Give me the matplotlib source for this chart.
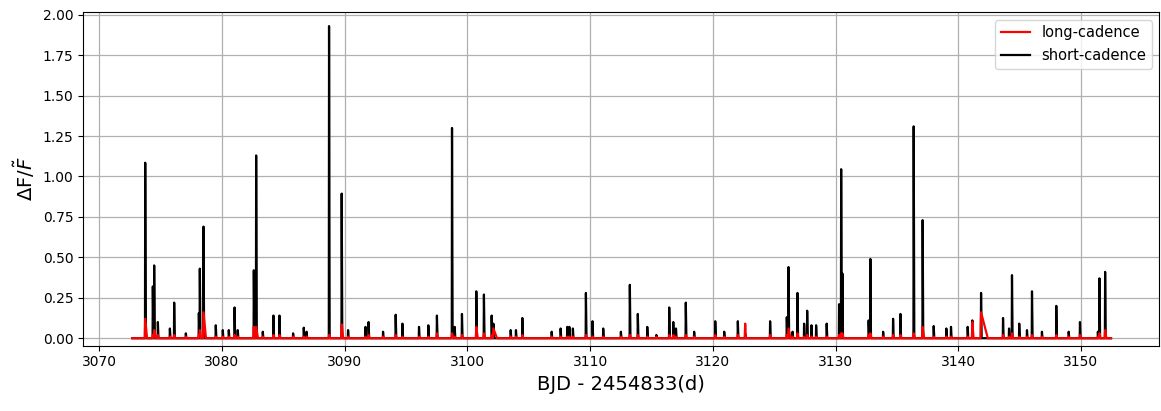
import numpy as np
import matplotlib
matplotlib.use("Agg")
import matplotlib.pyplot as plt

# ---- data ----
t_start, t_end = 3072.70, 3152.45

flare_times = [3073.75, 3074.37, 3074.48, 3074.78, 3075.76, 3076.11, 3077.06, 3078.12, 3078.20, 3078.50,
               3079.50, 3080.07, 3080.56, 3081.03, 3081.29, 3082.60, 3082.79, 3083.33, 3084.20, 3084.69,
               3085.80, 3086.67, 3086.90, 3088.73, 3089.76, 3090.28, 3091.70, 3091.95, 3093.13, 3094.16,
               3094.71, 3096.06, 3096.82, 3097.52, 3098.75, 3098.97, 3099.56, 3100.73, 3101.35, 3101.98,
               3102.12, 3103.53, 3103.96, 3104.48, 3106.87, 3107.60, 3108.14, 3108.31, 3108.60, 3109.66,
               3110.20, 3111.07, 3112.51, 3113.24, 3113.89, 3114.66, 3115.40, 3116.45, 3116.78, 3117.00,
               3117.80, 3118.48, 3120.20, 3120.93, 3122.04, 3122.64, 3124.67, 3126.03, 3126.17, 3126.50,
               3126.90, 3127.44, 3127.69, 3128.04, 3128.42, 3129.28, 3130.29, 3130.46, 3130.56, 3132.70,
               3132.84, 3133.88, 3134.69, 3135.29, 3136.37, 3137.10, 3138.00, 3139.03, 3139.41, 3140.77,
               3141.15, 3141.86, 3143.65, 3144.14, 3144.38, 3144.97, 3145.60, 3146.01, 3146.82, 3147.99,
               3149.00, 3149.92, 3151.38, 3151.51, 3151.97]

sc_peaks = [1.085, 0.32, 0.45, 0.10, 0.06, 0.22, 0.03, 0.155, 0.43, 0.69,
            0.08, 0.05, 0.05, 0.19, 0.05, 0.42, 1.13, 0.04, 0.14, 0.14,
            0.03, 0.065, 0.04, 1.93, 0.894, 0.05, 0.07, 0.10, 0.04, 0.145,
            0.09, 0.07, 0.08, 0.14, 1.30, 0.07, 0.15, 0.29, 0.27, 0.14,
            0.09, 0.05, 0.05, 0.125, 0.04, 0.06, 0.07, 0.07, 0.06, 0.28,
            0.105, 0.06, 0.04, 0.33, 0.15, 0.07, 0.02, 0.19, 0.10, 0.06,
            0.22, 0.04, 0.105, 0.04, 0.105, 0.03, 0.105, 0.13, 0.44, 0.04,
            0.28, 0.09, 0.17, 0.08, 0.08, 0.09, 0.21, 1.045, 0.40, 0.11,
            0.49, 0.04, 0.12, 0.15, 1.31, 0.73, 0.075, 0.06, 0.07, 0.07,
            0.11, 0.28, 0.125, 0.06, 0.39, 0.09, 0.05, 0.29, 0.04, 0.20,
            0.04, 0.10, 0.04, 0.37, 0.41]

lc_peaks = [0.12, 0.02, 0.05, 0.02, 0.01, 0.02, 0.01, 0.02, 0.05, 0.16,
            0.01, 0.01, 0.01, 0.02, 0.01, 0.07, 0.07, 0.01, 0.02, 0.02,
            0.01, 0.01, 0.01, 0.02, 0.085, 0.01, 0.01, 0.02, 0.01, 0.02,
            0.01, 0.01, 0.01, 0.03, 0.03, 0.01, 0.02, 0.07, 0.03, 0.02,
            0.06, 0.01, 0.01, 0.02, 0.01, 0.01, 0.01, 0.01, 0.01, 0.02,
            0.01, 0.01, 0.01, 0.02, 0.02, 0.01, 0.01, 0.02, 0.02, 0.01,
            0.02, 0.01, 0.02, 0.01, 0.02, 0.09, 0.02, 0.02, 0.06, 0.01,
            0.03, 0.01, 0.02, 0.01, 0.01, 0.01, 0.02, 0.03, 0.03, 0.02,
            0.03, 0.01, 0.02, 0.02, 0.03, 0.07, 0.01, 0.01, 0.01, 0.01,
            0.10, 0.16, 0.02, 0.01, 0.03, 0.01, 0.01, 0.02, 0.01, 0.02,
            0.01, 0.02, 0.01, 0.03, 0.05]

lc_decay = [0.15, 0.08, 0.15, 0.08, 0.08, 0.08, 0.08, 0.08, 0.08, 0.20,
            0.08, 0.08, 0.08, 0.08, 0.08, 0.08, 0.15, 0.08, 0.08, 0.08,
            0.08, 0.08, 0.08, 0.10, 0.12, 0.08, 0.08, 0.08, 0.08, 0.08,
            0.08, 0.08, 0.08, 0.08, 0.10, 0.08, 0.08, 0.12, 0.08, 0.08,
            0.30, 0.08, 0.08, 0.08, 0.08, 0.08, 0.08, 0.08, 0.08, 0.08,
            0.08, 0.08, 0.08, 0.08, 0.08, 0.08, 0.08, 0.08, 0.08, 0.08,
            0.08, 0.08, 0.08, 0.08, 0.08, 0.05, 0.08, 0.08, 0.15, 0.08,
            0.08, 0.08, 0.08, 0.08, 0.08, 0.08, 0.08, 0.10, 0.08, 0.08,
            0.08, 0.08, 0.08, 0.08, 0.10, 0.12, 0.08, 0.08, 0.08, 0.08,
            0.10, 0.55, 0.08, 0.08, 0.08, 0.08, 0.08, 0.08, 0.08, 0.08,
            0.08, 0.08, 0.08, 0.08, 0.10]

sc_rise, sc_decay = 0.02, 0.05
lc_rise = 0.04


def build_curve(times, peaks, rises, decays):
    knots = [t_start, t_end]
    for t, r, d in zip(times, rises, decays):
        knots += [t - r, t, t + d]
    x = np.unique(np.array(knots))
    y = np.zeros_like(x)
    for t, p, r, d in zip(times, peaks, rises, decays):
        y = np.maximum(y, np.interp(x, [t - r, t, t + d], [0.0, p, 0.0], left=0.0, right=0.0))
    return x, y


n = len(flare_times)
x_sc, y_sc = build_curve(flare_times, sc_peaks, [sc_rise] * n, [sc_decay] * n)
x_lc, y_lc = build_curve(flare_times, lc_peaks, [lc_rise] * n, lc_decay)

# ---- figure ----
fig = plt.figure(figsize=(11.61, 4.11), dpi=100)
ax = fig.add_axes([0.0717, 0.159, 0.927, 0.811])

ax.plot(x_lc, y_lc, color="red", lw=1.6, label="long-cadence", zorder=3)
ax.plot(x_sc, y_sc, color="black", lw=1.6, label="short-cadence", zorder=2)

ax.set_xlim(3068.7, 3156.4)
ax.set_ylim(-0.046, 2.015)
ax.set_yticks([0.0, 0.25, 0.5, 0.75, 1.0, 1.25, 1.5, 1.75, 2.0])
ax.grid(True, color="#b0b0b0", lw=0.9)
ax.set_axisbelow(True)
ax.tick_params(labelsize=10)

ax.set_xlabel("BJD - 2454833(d)", fontsize=14)
ax.set_ylabel(r"$\Delta$F/$\tilde{F}$", fontsize=14)
ax.legend(loc="upper right", fontsize=10.5)

fig.savefig("out.png", dpi=100)
